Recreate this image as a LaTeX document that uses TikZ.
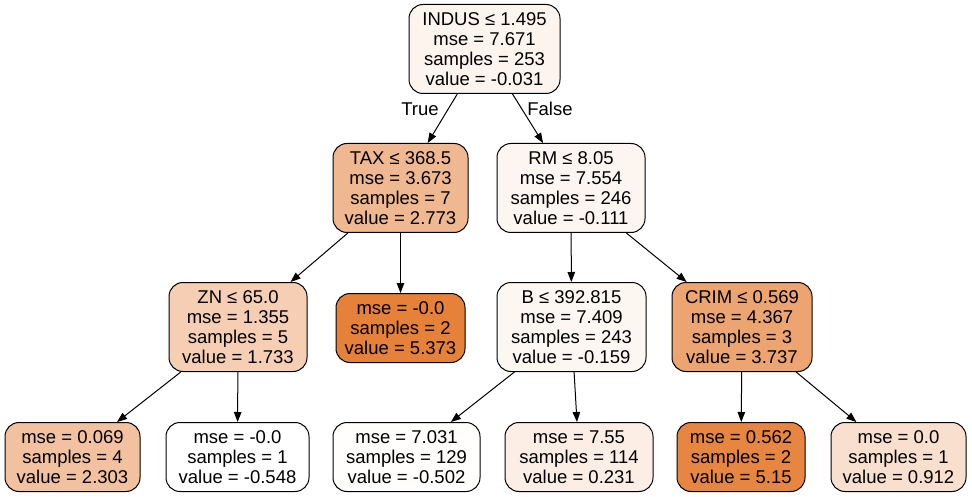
\documentclass[tikz,border=0pt]{standalone}
\usepackage{fontspec}
\setmainfont{Liberation Sans}
\usetikzlibrary{arrows.meta}
\definecolor{c0}{RGB}{253,244,238}
\definecolor{c1}{RGB}{240,184,144}
\definecolor{c2}{RGB}{253,246,240}
\definecolor{c3}{RGB}{245,206,179}
\definecolor{c4}{RGB}{229,129,57}
\definecolor{c5}{RGB}{253,247,242}
\definecolor{c6}{RGB}{236,164,112}
\definecolor{c7}{RGB}{242,194,160}
\definecolor{c8}{RGB}{255,255,255}
\definecolor{c9}{RGB}{255,254,253}
\definecolor{c10}{RGB}{252,238,229}
\definecolor{c11}{RGB}{230,134,65}
\definecolor{c12}{RGB}{249,224,206}
\tikzset{
  tnode/.style={draw=black, line width=1pt, rounded corners=14pt, align=center,
    inner sep=0pt, font=\fontsize{18.5}{19.8}\selectfont, minimum height=89pt},
  leafnode/.style={tnode, minimum height=69pt},
  edge/.style={line width=1pt, -{Triangle[length=10pt,width=7.5pt]}},
  elabel/.style={font=\fontsize{18.5}{20}\selectfont, inner sep=0pt}
}
\begin{document}
\begin{tikzpicture}[x=1pt,y=-1pt]
\useasboundingbox (0,0) rectangle (972,497);
% internal nodes
\node[tnode, fill=c0, minimum width=151pt] (root) at (484.5,49) {INDUS ≤ 1.495\\mse = 7.671\\samples = 253\\value = -0.031};
\node[tnode, fill=c1, minimum width=135pt] (tax) at (400.5,188) {TAX ≤ 368.5\\mse = 3.673\\samples = 7\\value = 2.773};
\node[tnode, fill=c2, minimum width=148pt] (rm) at (571,188) {RM ≤ 8.05\\mse = 7.554\\samples = 246\\value = -0.111};
\node[tnode, fill=c3, minimum width=138pt] (zn) at (238,327) {ZN ≤ 65.0\\mse = 1.355\\samples = 5\\value = 1.733};
\node[leafnode, fill=c4, minimum width=129pt] (l2) at (400.5,328) {mse = -0.0\\samples = 2\\value = 5.373};
\node[tnode, fill=c5, minimum width=149pt] (b) at (571.5,327) {B ≤ 392.815\\mse = 7.409\\samples = 243\\value = -0.159};
\node[tnode, fill=c6, minimum width=140pt] (crim) at (742,327) {CRIM ≤ 0.569\\mse = 4.367\\samples = 3\\value = 3.737};
% leaves
\node[leafnode, fill=c7, minimum width=135pt] (l1) at (72.5,457) {mse = 0.069\\samples = 4\\value = 2.303};
\node[leafnode, fill=c8, minimum width=143pt] (l0) at (237.5,457) {mse = -0.0\\samples = 1\\value = -0.548};
\node[leafnode, fill=c9, minimum width=147pt] (l3) at (406.5,457) {mse = 7.031\\samples = 129\\value = -0.502};
\node[leafnode, fill=c10, minimum width=148pt] (l4) at (579,457) {mse = 7.55\\samples = 114\\value = 0.231};
\node[leafnode, fill=c11, minimum width=128pt] (l5) at (741,457) {mse = 0.562\\samples = 2\\value = 5.15};
\node[leafnode, fill=c12, minimum width=135pt] (l6) at (898.5,457) {mse = 0.0\\samples = 1\\value = 0.912};
% edges
\draw[edge] (root) -- (tax);
\draw[edge] (root) -- (rm);
\draw[edge] (tax) -- (zn);
\draw[edge] (tax.south) -- (l2.north -| tax.south);
\draw[edge] (rm) -- (b);
\draw[edge] (rm) -- (crim);
\draw[edge] (zn) -- (l1);
\draw[edge] (zn) -- (l0);
\draw[edge] (b) -- (l3);
\draw[edge] (b) -- (l4);
\draw[edge] (crim) -- (l5);
\draw[edge] (crim) -- (l6);
% branch labels
\node[elabel] (tlab) at (420,109) {True};
\node[elabel] (flab) at (550,109) {False};
\end{tikzpicture}
\end{document}
